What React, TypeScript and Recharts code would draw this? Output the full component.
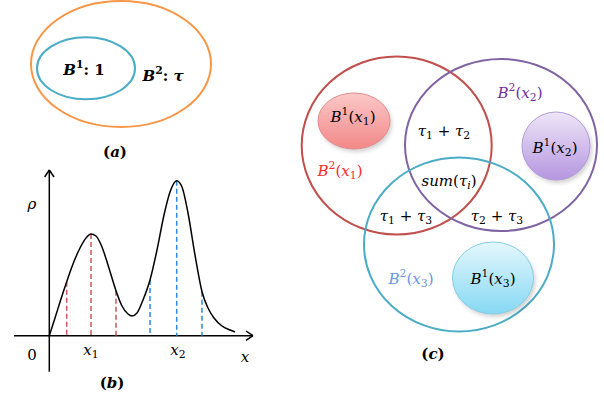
import { ComposedChart, XAxis, YAxis, Line, Scatter, ReferenceLine } from "recharts";

// plot space is laid out in pixels: x 0..604, y 0..405 (y grows downwards)
const W = 604;
const H = 405;

// density curve of panel (b)
const densityCurve = [
  { x: 49.3, y: 335.7 },
  { x: 55, y: 318 },
  { x: 60, y: 302 },
  { x: 66.7, y: 281.7 },
  { x: 73, y: 264 },
  { x: 80, y: 248 },
  { x: 86, y: 238 },
  { x: 91, y: 234 },
  { x: 96, y: 236 },
  { x: 102, y: 247 },
  { x: 108, y: 265 },
  { x: 116, y: 290.7 },
  { x: 122, y: 306 },
  { x: 128, y: 314 },
  { x: 132, y: 316 },
  { x: 137, y: 313 },
  { x: 143, y: 300 },
  { x: 150, y: 280 },
  { x: 157, y: 250 },
  { x: 164, y: 215 },
  { x: 170, y: 192 },
  { x: 176.7, y: 180.7 },
  { x: 182, y: 187 },
  { x: 188, y: 213 },
  { x: 195, y: 255 },
  { x: 202, y: 291.7 },
  { x: 208, y: 308 },
  { x: 214, y: 318 },
  { x: 222, y: 326 },
  { x: 230, y: 330 },
  { x: 235, y: 332 },
];

const baseY = 335.7;
const redDrops = [
  { x: 66.7, top: 281.7 },
  { x: 91, top: 234 },
  { x: 116, top: 290.7 },
];
const blueDrops = [
  { x: 150, top: 280 },
  { x: 176.7, top: 180.7 },
  { x: 202, top: 291.7 },
];

// axes and their open arrow heads
const axisSegments = [
  [{ x: 14, y: baseY }, { x: 253, y: baseY }],
  [{ x: 246, y: 331 }, { x: 253, y: baseY }],
  [{ x: 246, y: 340.4 }, { x: 253, y: baseY }],
  [{ x: 49.3, y: 371.7 }, { x: 49.3, y: 170 }],
  [{ x: 44.6, y: 177 }, { x: 49.3, y: 170 }],
  [{ x: 54, y: 177 }, { x: 49.3, y: 170 }],
];

// outlines and filled discs
const ellipses = [
  { x: 121, y: 64, rx: 90, ry: 63, stroke: "#f79646", fill: "none" },
  { x: 86, y: 68.3, rx: 49, ry: 31, stroke: "#4bacc6", fill: "none" },
  { x: 396.7, y: 145.5, rx: 95, ry: 89, stroke: "#c0504d", fill: "none" },
  { x: 501, y: 145, rx: 96, ry: 86, stroke: "#8064a2", fill: "none" },
  { x: 459, y: 244.5, rx: 95, ry: 87, stroke: "#4bacc6", fill: "none" },
  { x: 354, y: 121, rx: 36, ry: 28, stroke: "#e58b8b", fill: "url(#gRed)", shadow: true },
  { x: 556, y: 146, rx: 34, ry: 34, stroke: "#b39ad8", fill: "url(#gPurple)", shadow: true },
  { x: 493, y: 278, rx: 40.5, ry: 36, stroke: "#86cfe6", fill: "url(#gTeal)", shadow: true },
];

const labels = [
  { x: 84, y: 70, text: "B^1: 1", color: "#000", bold: true },
  { x: 163, y: 76, text: "B^2: τ", color: "#000", bold: true },
  { x: 115, y: 152, text: "(a)", color: "#000", bold: true },
  { x: 32, y: 204, text: "ρ", color: "#000" },
  { x: 32, y: 355, text: "0", color: "#000", upright: true },
  { x: 91, y: 350, text: "x_1", color: "#000" },
  { x: 178, y: 350, text: "x_2", color: "#000" },
  { x: 245, y: 357, text: "x", color: "#000" },
  { x: 112, y: 383, text: "(b)", color: "#000", bold: true },
  { x: 353, y: 117, text: "B^1(x_1)", color: "#000" },
  { x: 520, y: 93, text: "B^2(x_2)", color: "#7030a0" },
  { x: 555, y: 148, text: "B^1(x_2)", color: "#000" },
  { x: 444, y: 131, text: "τ_1 + τ_2", color: "#000" },
  { x: 340, y: 171, text: "B^2(x_1)", color: "#ff2a2a" },
  { x: 449, y: 181, text: "sum(τ_i)", color: "#000" },
  { x: 406, y: 216, text: "τ_1 + τ_3", color: "#000" },
  { x: 497, y: 216, text: "τ_2 + τ_3", color: "#000" },
  { x: 411, y: 279, text: "B^2(x_3)", color: "#6a98e0" },
  { x: 493, y: 279, text: "B^1(x_3)", color: "#000" },
  { x: 433, y: 354, text: "(c)", color: "#000", bold: true },
];

const FONT = "'DejaVu Serif', serif";

function mathSpans(text: string, size: number, upright?: boolean) {
  const spans: any[] = [];
  let shift = 0;
  let i = 0;
  while (i < text.length) {
    let ch = text[i];
    let level = 0;
    if ((ch === "^" || ch === "_") && i + 1 < text.length) {
      level = ch === "^" ? -0.38 : 0.28;
      i++;
      ch = text[i];
    }
    const italic = !upright && /[A-Za-zτρ]/.test(ch);
    const last = spans[spans.length - 1];
    if (last && last.level === level && last.italic === italic && level === 0) {
      last.t += ch;
    } else {
      spans.push({ t: ch, level, italic });
    }
    i++;
  }
  return spans.map((s, k) => {
    const dy = (s.level - shift) * size;
    shift = s.level;
    return (
      <tspan
        key={k}
        dy={dy}
        fontStyle={s.italic ? "italic" : "normal"}
        fontSize={s.level === 0 ? size : size * 0.72}
      >
        {s.t}
      </tspan>
    );
  });
}

const EllipseShape = (p: any) => {
  const d = p.payload;
  return (
    <g>
      {d.shadow && (
        <ellipse cx={p.cx + 2} cy={p.cy + 3} rx={d.rx} ry={d.ry} fill="#000" opacity={0.18} filter="url(#blur)" />
      )}
      <ellipse cx={p.cx} cy={p.cy} rx={d.rx} ry={d.ry} stroke={d.stroke} strokeWidth={d.shadow ? 1 : 2} fill={d.fill} />
    </g>
  );
};

const LabelShape = (p: any) => {
  const d = p.payload;
  return (
    <text
      x={p.cx}
      y={p.cy}
      textAnchor="middle"
      dominantBaseline="central"
      fontFamily={FONT}
      fontWeight={d.bold ? "bold" : "normal"}
      fill={d.color}
    >
      {mathSpans(d.text, 15, d.upright)}
    </text>
  );
};

export default function App() {
  return (
    <div style={{ position: "absolute", left: 0, top: 0, background: "#fff" }}>
      <ComposedChart width={W} height={H} margin={{ top: 0, right: 0, bottom: 0, left: 0 }}>
        <defs>
          <linearGradient id="gRed" x1="0" y1="0" x2="0" y2="1">
            <stop offset="0%" stopColor="#fcc8c8" />
            <stop offset="100%" stopColor="#f28888" />
          </linearGradient>
          <linearGradient id="gPurple" x1="0" y1="0" x2="0" y2="1">
            <stop offset="0%" stopColor="#eee6f8" />
            <stop offset="100%" stopColor="#b596e0" />
          </linearGradient>
          <linearGradient id="gTeal" x1="0" y1="0" x2="0" y2="1">
            <stop offset="0%" stopColor="#e4f7fd" />
            <stop offset="100%" stopColor="#86d8f3" />
          </linearGradient>
          <filter id="blur" x="-20%" y="-20%" width="140%" height="140%">
            <feGaussianBlur stdDeviation="2" />
          </filter>
        </defs>
        <XAxis type="number" dataKey="x" domain={[0, W]} hide />
        <YAxis type="number" dataKey="y" domain={[0, H]} reversed hide />

        <Scatter data={ellipses} dataKey="y" shape={EllipseShape} isAnimationActive={false} />

        {axisSegments.map((seg, k) => (
          <ReferenceLine key={"ax" + k} segment={seg} stroke="#000" strokeWidth={1.5} ifOverflow="visible" />
        ))}
        {redDrops.map((d, k) => (
          <ReferenceLine key={"r" + k} segment={[{ x: d.x, y: d.top }, { x: d.x, y: baseY }]} stroke="#c9575a" strokeWidth={1.5} strokeDasharray="5 3" ifOverflow="visible" />
        ))}
        {blueDrops.map((d, k) => (
          <ReferenceLine key={"b" + k} segment={[{ x: d.x, y: d.top }, { x: d.x, y: baseY }]} stroke="#2f88d6" strokeWidth={1.5} strokeDasharray="5 3" ifOverflow="visible" />
        ))}
        <Line data={densityCurve} dataKey="y" type="monotone" stroke="#000" strokeWidth={1.5} dot={false} activeDot={false} isAnimationActive={false} />

        <Scatter data={labels} dataKey="y" shape={LabelShape} isAnimationActive={false} />
      </ComposedChart>
    </div>
  );
}
